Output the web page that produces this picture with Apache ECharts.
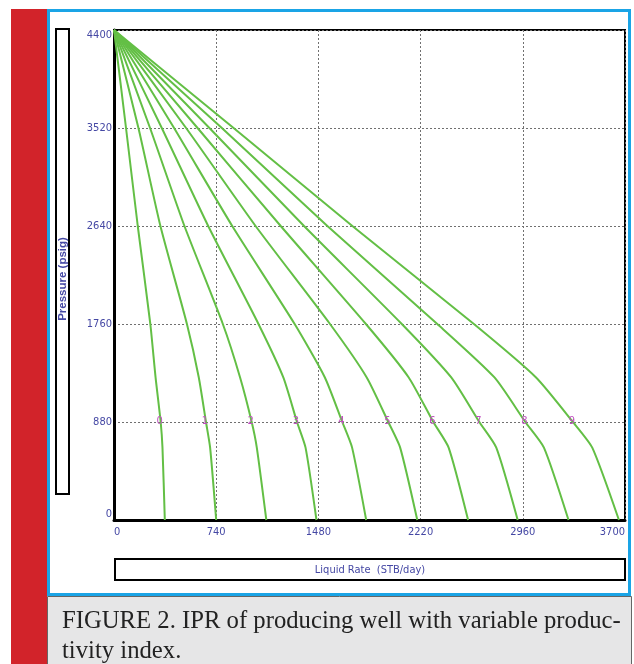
<!DOCTYPE html>
<html>
<head>
<meta charset="utf-8">
<script src="https://cdn.jsdelivr.net/npm/echarts@6/dist/echarts.min.js"></script>
<style>
  html, body { margin: 0; padding: 0; background: #fff; }
  #chart { width: 634px; height: 664px; }
</style>
</head>
<body>
<div id="chart"></div>
<script>
// pressure levels (psig) where each curve was read
const pressures = [4400, 3520, 2640, 1760, 1280, 880, 650, 0]

// liquid rate (STB/day) of each IPR curve at those pressures
const curve0 = [0, 87, 172, 263, 301, 338, 351, 368]
const curve1 = [0, 177, 336, 528, 614, 666, 696, 740]
const curve2 = [0, 261, 510, 788, 913, 997, 1034, 1103]
const curve3 = [0, 346, 682, 1046, 1226, 1325, 1387, 1466]
const curve4 = [0, 435, 856, 1308, 1527, 1653, 1724, 1826]
const curve5 = [0, 522, 1025, 1564, 1830, 1986, 2072, 2196]
const curve6 = [0, 605, 1207, 1824, 2134, 2312, 2423, 2564]
const curve7 = [0, 691, 1376, 2084, 2442, 2645, 2768, 2923]
const curve8 = [0, 781, 1545, 2341, 2755, 2978, 3113, 3291]
const curve9 = [0, 866, 1726, 2606, 3056, 3323, 3463, 3656]
const curveNames = ['0', '1', '2', '3', '4', '5', '6', '7', '8', '9']

const xTicks = [0, 740, 1480, 2220, 2960, 3700]
const yTicks = [0, 880, 1760, 2640, 3520, 4400]

const curves = [curve0, curve1, curve2, curve3, curve4, curve5, curve6, curve7, curve8, curve9]
const labelFont = "'Liberation Sans Narrow', 'DejaVu Sans Condensed', 'Liberation Sans', sans-serif"
const blue = '#4548a4'
const green = '#63bf45'

function ipr(rates, name) {
  return {
    name,
    type: 'line',
    smooth: 0.2,
    showSymbol: true,
    symbol: 'circle',
    symbolSize: 0,
    itemStyle: { color: green },
    lineStyle: { color: green, width: 2 },
    z: 4,
    data: rates.map((q, k) => {
      const point = { value: [q, pressures[k]] }
      if (pressures[k] === 880) {
        point.label = {
          show: true,
          position: 'top',
          distance: 0,
          offset: [-1, 5],
          formatter: name,
          color: '#c050c0',
          fontSize: 11,
          fontFamily: labelFont
        }
      }
      return point
    })
  }
}

const chart = echarts.init(document.getElementById('chart'), null, { renderer: 'canvas' })

chart.setOption({
  animation: false,
  grid: {
    left: 114, top: 30, width: 511, height: 490,
    show: true, borderColor: '#000', borderWidth: 2
  },
  xAxis: {
    type: 'value',
    min: xTicks[0],
    max: xTicks[xTicks.length - 1],
    interval: 740,
    axisLine: { show: true, lineStyle: { color: '#000', width: 3 } },
    axisTick: { show: false },
    axisLabel: {
      color: blue, fontSize: 11, fontFamily: labelFont, margin: 7,
      formatter: (v) => String(v),
      alignMinLabel: 'left', alignMaxLabel: 'right'
    },
    splitLine: { show: true, lineStyle: { color: '#707070', type: [2, 2], width: 1 } }
  },
  yAxis: {
    type: 'value',
    min: yTicks[0],
    max: yTicks[yTicks.length - 1],
    interval: 880,
    axisLine: { show: true, lineStyle: { color: '#000', width: 3 } },
    axisTick: { show: false },
    axisLabel: {
      color: blue, fontSize: 11, fontFamily: labelFont, margin: 2,
      formatter: (v) => String(v),
      verticalAlignMinLabel: 'bottom', verticalAlignMaxLabel: 'top'
    },
    splitLine: { show: true, lineStyle: { color: '#707070', type: [2, 2], width: 1 } }
  },
  graphic: [
    // red margin stripe
    { type: 'rect', z: -10, shape: { x: 11, y: 9, width: 36, height: 655 }, style: { fill: '#d2232a' } },
    // blue figure frame
    { type: 'rect', z: -9, shape: { x: 48.5, y: 10.5, width: 581, height: 584 },
      style: { fill: '#fff', stroke: '#1aa4e6', lineWidth: 3 } },
    // caption box
    { type: 'rect', z: -8, shape: { x: 47.5, y: 596.5, width: 584, height: 70 },
      style: { fill: '#e6e6e7', stroke: '#666', lineWidth: 1 } },
    { type: 'text', z: 10, left: 62, top: 609,
      style: { text: 'FIGURE 2. IPR of producing well with variable produc-', fill: '#222',
        font: "24.7px 'Liberation Serif', 'DejaVu Serif', serif" } },
    { type: 'text', z: 10, left: 62, top: 639,
      style: { text: 'tivity index.', fill: '#222',
        font: "24.7px 'Liberation Serif', 'DejaVu Serif', serif" } },
    // y-axis title box
    { type: 'rect', z: 5, shape: { x: 56, y: 29, width: 13, height: 465 },
      style: { fill: '#fff', stroke: '#000', lineWidth: 2 } },
    { type: 'text', z: 6, x: 62.5, y: 279, rotation: Math.PI / 2,
      style: { text: 'Pressure (psig)', fill: blue, align: 'center', verticalAlign: 'middle',
        font: "bold 11.5px 'Liberation Sans', sans-serif" } },
    // x-axis title box
    { type: 'rect', z: 5, shape: { x: 115, y: 559, width: 510, height: 21 },
      style: { fill: '#fff', stroke: '#000', lineWidth: 2 } },
    { type: 'text', z: 6, x: 370, y: 570,
      style: { text: 'Liquid Rate  (STB/day)', fill: blue, align: 'center', verticalAlign: 'middle',
        font: "11px " + labelFont } }
  ],
  series: curves.map((rates, i) => ipr(rates, curveNames[i]))
})
</script>
</body>
</html>
